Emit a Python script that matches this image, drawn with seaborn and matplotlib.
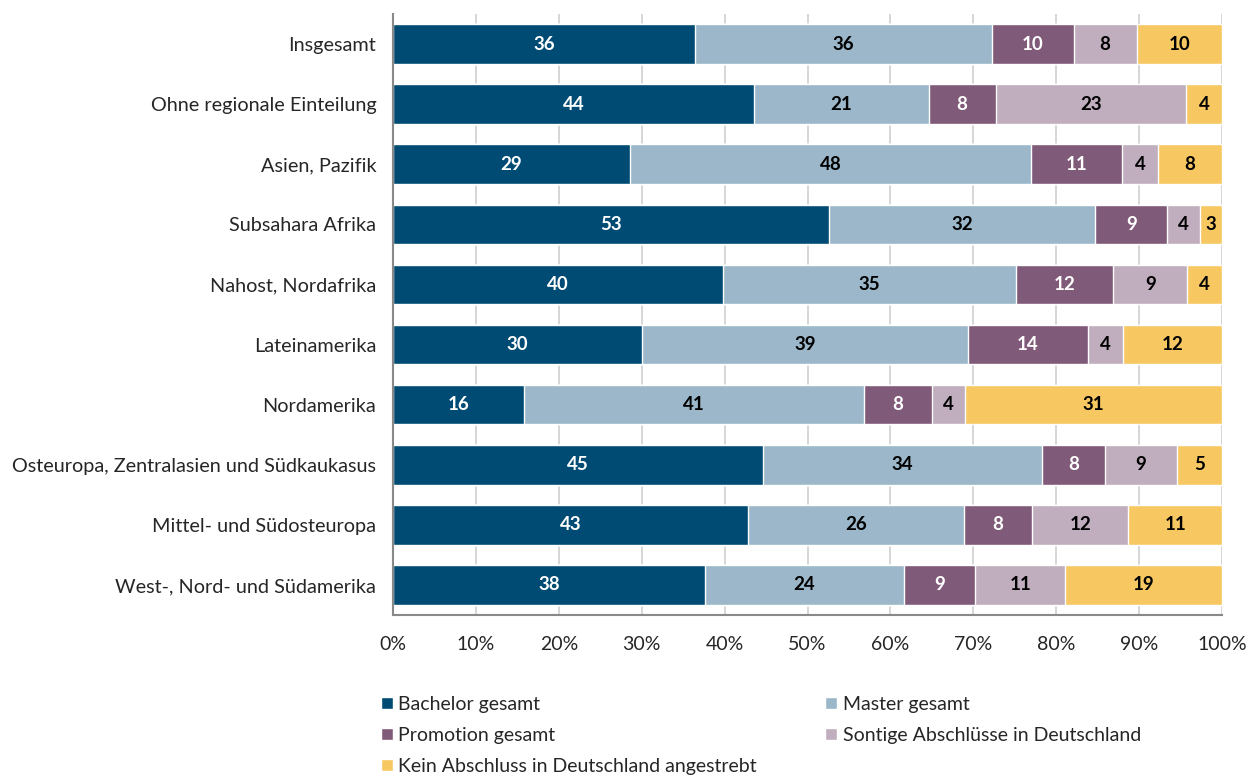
import numpy as np
import pandas as pd
import matplotlib
matplotlib.use('Agg')
import matplotlib.pyplot as plt
import seaborn as sns
from matplotlib.patches import Patch

# regions, top to bottom
regions = ['Insgesamt', 'Ohne regionale Einteilung', 'Asien, Pazifik', 'Subsahara Afrika',
           'Nahost, Nordafrika', 'Lateinamerika', 'Nordamerika',
           'Osteuropa, Zentralasien und Südkaukasus', 'Mittel- und Südosteuropa',
           'West-, Nord- und Südamerika']

bachelor = [36.4, 43.6, 28.6, 52.6, 39.8, 30.0, 15.8, 44.6, 42.8, 37.6]
master = [35.8, 21.0, 48.4, 32.1, 35.3, 39.4, 41.0, 33.7, 26.1, 24.0]
promotion = [9.9, 8.1, 10.9, 8.7, 11.8, 14.4, 8.2, 7.6, 8.2, 8.6]
sontige = [7.6, 23.0, 4.4, 3.9, 8.9, 4.2, 4.0, 8.7, 11.6, 10.9]
kein = [10.3, 4.3, 7.7, 2.7, 4.2, 12.0, 31.0, 5.4, 11.3, 18.9]

series_names = ['Bachelor gesamt', 'Master gesamt', 'Promotion gesamt',
                'Sontige Abschlüsse in Deutschland', 'Kein Abschluss in Deutschland angestrebt']
colors = ['#004B74', '#9BB7C9', '#7F5B79', '#C0ADBD', '#F7C862']
text_colors = ['white', 'black', 'white', 'black', 'black']

sns.set_style('white')
plt.rcParams['font.family'] = ['Lato', 'DejaVu Sans']

df = pd.DataFrame({'Region': regions, 'b': bachelor, 'm': master, 'p': promotion,
                   's': sontige, 'k': kein})
cols = ['b', 'm', 'p', 's', 'k']
cum = df[cols].cumsum(axis=1)

fig = plt.figure(figsize=(12.59, 7.78), dpi=100)
ax = fig.add_axes([393 / 1259, 1 - 615 / 778, 829 / 1259, 601 / 778])

ax.set_axisbelow(True)
ax.grid(axis='x', color='#cfcfcf', lw=1.2)

# draw cumulative bars from the back (total) to the front (bachelor)
for i in range(len(cols) - 1, -1, -1):
    sns.barplot(x=cum[cols[i]], y=df['Region'], orient='h', color=colors[i],
                width=0.66, ax=ax, saturation=1)

for i, c in enumerate(cols):
    starts = cum[c] - df[c]
    for j in range(len(df)):
        ax.text(starts[j] + df[c][j] / 2, j, f'{round(df[c][j]):.0f}', ha='center',
                va='center', color=text_colors[i], fontsize=13.5, fontweight='bold')

ax.set_xlim(0, 100)
ax.set_ylim(len(regions) - 0.5, -0.5)
ax.set_xticks(np.arange(0, 101, 10))
ax.set_xticklabels([f'{v}%' for v in range(0, 101, 10)], fontsize=14)
ax.set_yticks(np.arange(len(regions)))
ax.set_yticklabels(regions, fontsize=14.3)
ax.set_xlabel('')
ax.set_ylabel('')

# ticks at category boundaries on the y axis
ax.set_yticks(np.arange(-0.5, len(regions), 1), minor=True)
ax.tick_params(axis='y', which='major', length=0, pad=12)
ax.tick_params(axis='y', which='minor', length=6, color='#898989', width=1.2)
ax.tick_params(axis='x', which='major', length=6, color='#898989', width=1.2, pad=9)

for s in ['top', 'right']:
    ax.spines[s].set_visible(False)
for s in ['left', 'bottom']:
    ax.spines[s].set_color('#898989')
    ax.spines[s].set_linewidth(1.5)

# legend filled row-wise
order = [0, 2, 4, 1, 3]
handles = [Patch(facecolor=colors[i], label=series_names[i]) for i in order]
fig.legend(handles=handles, ncol=2, loc='upper left',
           bbox_to_anchor=(381 / 1259, 1 - 696 / 778), frameon=False,
           borderaxespad=0, borderpad=0, fontsize=14, handlelength=0.6,
           handleheight=0.6, handletextpad=0.3, labelspacing=0.72, columnspacing=3.5)

fig.savefig('out.png', dpi=100)
